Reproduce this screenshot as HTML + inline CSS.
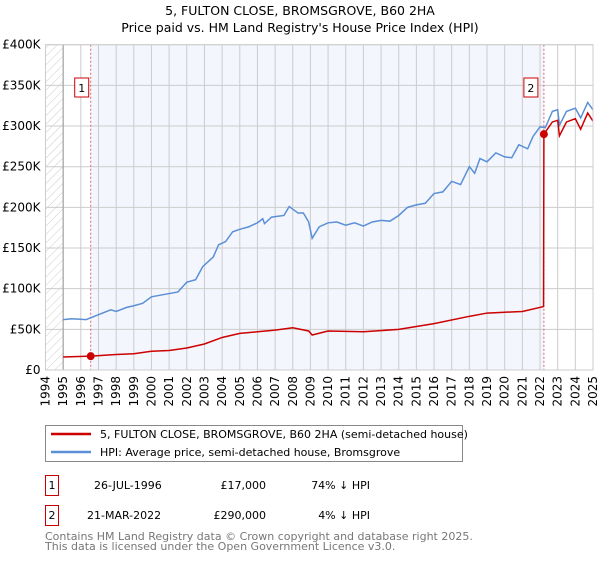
<!DOCTYPE html>
<html><head><meta charset="utf-8"><style>
body{margin:0;background:#fff;font-family:"Liberation Sans","DejaVu Sans",sans-serif;}
svg text{font-family:"DejaVu Sans","Liberation Sans",sans-serif;}
</style></head><body>
<svg width="600" height="560" xmlns="http://www.w3.org/2000/svg" id="chart">
<defs><pattern id="hatch" width="6" height="6" patternUnits="userSpaceOnUse" patternTransform="rotate(45)"><line x1="0" y1="0" x2="0" y2="6" stroke="#ccc" stroke-width="1"/></pattern></defs>
<text x="300" y="15" text-anchor="middle" font-size="12.5">5, FULTON CLOSE, BROMSGROVE, B60 2HA</text>
<text x="300" y="32" text-anchor="middle" font-size="12.5">Price paid vs. HM Land Registry's House Price Index (HPI)</text>
<g id="plot"></g>
<g>
<rect x="45.5" y="425.5" width="417" height="36" fill="#fff" stroke="#888"/>
<line x1="51" y1="434" x2="91" y2="434" stroke="#cc0000" stroke-width="2.5"/>
<text x="100" y="438" font-size="11">5, FULTON CLOSE, BROMSGROVE, B60 2HA (semi-detached house)</text>
<line x1="51" y1="452" x2="91" y2="452" stroke="#5b8fd6" stroke-width="2.5"/>
<text x="100" y="456" font-size="11">HPI: Average price, semi-detached house, Bromsgrove</text>
</g>
<g font-size="11">
<rect x="45.5" y="475.5" width="13" height="20" fill="#fff" stroke="#cc0000"/>
<text x="52" y="489" text-anchor="middle">1</text>
<text x="94" y="489">26-JUL-1996</text>
<text x="266" y="489" text-anchor="end">£17,000</text>
<text x="370" y="489" text-anchor="end">74% ↓ HPI</text>
<rect x="45.5" y="505.5" width="13" height="20" fill="#fff" stroke="#cc0000"/>
<text x="52" y="519" text-anchor="middle">2</text>
<text x="87" y="519">21-MAR-2022</text>
<text x="266" y="519" text-anchor="end">£290,000</text>
<text x="370" y="519" text-anchor="end">4% ↓ HPI</text>
</g>
<text font-size="11" fill="#777"><tspan x="45" y="540">Contains HM Land Registry data © Crown copyright and database right 2025.</tspan><tspan x="45" y="550">This data is licensed under the Open Government Licence v3.0.</tspan></text>
</svg>
<script>
const yearTicks=[1994,1995,1996,1997,1998,1999,2000,2001,2002,2003,2004,2005,2006,2007,2008,2009,2010,2011,2012,2013,2014,2015,2016,2017,2018,2019,2020,2021,2022,2023,2024,2025];
const valueTicks=[0,50,100,150,200,250,300,350,400];
const valueLabels=["£0","£50K","£100K","£150K","£200K","£250K","£300K","£350K","£400K"];
const hpiDates=[1995,1995.5,1996.3,1997,1997.7,1998,1998.6,1999,1999.5,2000,2001,2001.5,2002,2002.5,2002.9,2003.5,2003.8,2004.2,2004.6,2005,2005.5,2006,2006.3,2006.4,2006.8,2007.5,2007.8,2008.3,2008.6,2008.9,2009.1,2009.5,2010,2010.5,2011,2011.5,2012,2012.5,2013,2013.5,2014,2014.5,2015,2015.5,2016,2016.5,2017,2017.5,2018,2018.3,2018.6,2019,2019.5,2020,2020.4,2020.8,2021.3,2021.6,2022,2022.3,2022.7,2023,2023.1,2023.5,2024,2024.3,2024.7,2025];
const hpiValues=[62,63,62,68,74,72,77,79,82,90,94,96,108,111,127,139,154,158,170,173,176,181,186,180,188,190,201,193,193,182,162,176,181,182,178,181,177,182,184,183,190,200,203,205,217,219,232,228,250,242,260,256,267,262,261,277,272,287,299,298,318,320,301,318,322,310,329,320];
const ppDates=[1995,1996.56,1998,1999,2000,2001,2002,2003,2004,2005,2006,2007,2008,2008.9,2009.1,2010,2012,2014,2016,2018,2019,2020,2021,2022.2,2022.22,2022.7,2023,2023.1,2023.5,2024,2024.3,2024.7,2025];
const ppValues=[16,17,19,20,23,24,27,32,40,45,47,49,52,48,43,48,47,50,57,66,70,71,72,78,290,305,307,288,305,309,296,316,306];
const saleDates=[1996.56,2022.22];
const saleValues=[17,290];
const saleLabels=["1","2"];
const X0=45.5,X1=593,Y0=370,Y1=44.7;
const xs=d=>X0+(d-1994)/(2025-1994)*(X1-X0);
const ys=v=>Y0-v/400*(Y0-Y1);
const NS="http://www.w3.org/2000/svg";
const g=document.getElementById('plot');
function mk(t,a){const e=document.createElementNS(NS,t);for(const k in a)e.setAttribute(k,a[k]);g.appendChild(e);return e;}
let e;
e=mk('rect',{x:xs(1994),y:Y1,width:xs(1995)-xs(1994),height:Y0-Y1,fill:'url(#hatch)'});


e=mk('rect',{x:xs(saleDates[0]),y:Y1,width:xs(saleDates[1])-xs(saleDates[0]),height:Y0-Y1,fill:'#f3f6fd'});


yearTicks.forEach(y=>{
 e=mk('line',{x1:xs(y),x2:xs(y),y1:Y1,y2:Y0,stroke:'#ccc'});
 
 
 const x=xs(y),t=mk('text',{x:x+4,y:Y0+6,'font-size':12,'text-anchor':'end',transform:`rotate(-90 ${x+4} ${Y0+6})`});
 t.textContent=y;
 
 
});
valueTicks.forEach((v,i)=>{
 e=mk('line',{x1:X0,x2:X1,y1:ys(v),y2:ys(v),stroke:'#ccc'});
 
 
 const t=mk('text',{x:X0-5,y:ys(v)+4,'font-size':12,'text-anchor':'end'});
 t.textContent=valueLabels[i];
 
 
});
e=mk('line',{x1:xs(1995),x2:xs(1995),y1:Y1,y2:Y0,stroke:'#999'});


e=mk('line',{x1:X1,x2:X1,y1:Y1,y2:Y0,stroke:'#999'});


saleDates.forEach((d,i)=>{
 e=mk('line',{x1:xs(d),x2:xs(d),y1:Y1,y2:Y0,stroke:'#e06666','stroke-dasharray':'2,2'});
 
 
});
e=mk('polyline',{points:hpiDates.map((d,i)=>xs(d)+','+ys(hpiValues[i])).join(' '),fill:'none',stroke:'#5b8fd6','stroke-width':1.5});


e=mk('polyline',{points:ppDates.map((d,i)=>xs(d)+','+ys(ppValues[i])).join(' '),fill:'none',stroke:'#cc0000','stroke-width':1.5});


saleDates.forEach((d,i)=>{
 e=mk('circle',{cx:xs(d),cy:ys(saleValues[i]),r:4,fill:'#cc0000'});
 
 
 const bx=xs(d)-9-(i?4:0);
 e=mk('rect',{x:bx-7,y:78,width:14,height:19,fill:'#fff',stroke:'#cc0000'});
 
 
 const t=mk('text',{x:bx,y:92,'font-size':11,'text-anchor':'middle'});
 t.textContent=saleLabels[i];
 
 
});
e=mk('rect',{x:X0,y:Y1,width:X1-X0,height:Y0-Y1,fill:'none',stroke:'#ccc'});


</script>
</body></html>
